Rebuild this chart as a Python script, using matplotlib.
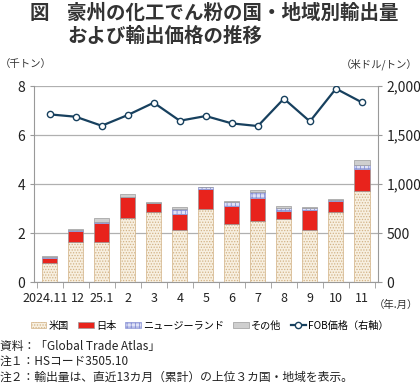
import matplotlib.pyplot as plt
import matplotlib.transforms as mtransforms
import numpy as np

plt.rcParams['font.family'] = ['Noto Sans CJK JP', 'DejaVu Sans']
plt.rcParams['hatch.linewidth'] = 0.6

months = ["2024.11", "12", "25.1", "2", "3", "4", "5", "6", "7", "8", "9", "10", "11"]
usa = [0.80, 1.66, 1.66, 2.60, 2.87, 2.12, 2.98, 2.37, 2.50, 2.57, 2.12, 2.87, 3.70]
japan = [0.17, 0.42, 0.76, 0.86, 0.37, 0.68, 0.84, 0.72, 0.94, 0.33, 0.82, 0.46, 0.91]
nz = [0.06, 0.06, 0.04, 0.02, 0.01, 0.19, 0.06, 0.19, 0.22, 0.11, 0.07, 0.04, 0.19]
other = [0.06, 0.05, 0.14, 0.10, 0.02, 0.07, 0.02, 0.05, 0.11, 0.11, 0.05, 0.04, 0.17]
fob = [1711, 1687, 1595, 1704, 1830, 1646, 1694, 1619, 1592, 1871, 1639, 1973, 1833]

x = np.arange(len(months))
w = 0.58

fig = plt.figure(figsize=(4.2, 3.84), dpi=100)
ax = fig.add_axes([0.081, 0.265, 0.818, 0.511])
ax2 = ax.twinx()

b1 = np.array(usa)
b2 = b1 + np.array(japan)
b3 = b2 + np.array(nz)
ax.bar(x, usa, w, color='#f7efe0', edgecolor='#d2b285', hatch='......', linewidth=0.5, label='米国', zorder=3)
ax.bar(x, japan, w, bottom=b1, color='#e8231c', edgecolor='#9a9a9a', linewidth=0.5, label='日本', zorder=3)
ax.bar(x, nz, w, bottom=b2, color='#dfe2f6', edgecolor='#8a93d6', hatch='++++', linewidth=0.5, label='ニュージーランド', zorder=3)
ax.bar(x, other, w, bottom=b3, color='#cfcfcf', edgecolor='#9a9a9a', linewidth=0.5, label='その他', zorder=3)

ax2.plot(x, fob, color='#17405e', lw=1.6, marker='o', ms=4.5, mfc='white', mec='#17405e', mew=1.0, label='FOB価格（右軸）')

ax.set_ylim(0, 8)
ax.set_yticks([0, 2, 4, 6, 8])
ax2.set_ylim(0, 2000)
ax2.set_yticks([0, 500, 1000, 1500, 2000])
ax2.set_yticklabels(['0', '500', '1,000', '1,500', '2,000'])
ax.set_xlim(-0.6, len(months) - 0.4)
ax.set_xticks(x)
ax.set_xticklabels(months)
ax.set_xticks(np.arange(-0.5, len(months)), minor=True)
ax.tick_params(axis='x', which='major', length=0, labelsize=9, pad=7, colors='#222222')
ax.tick_params(axis='x', which='minor', length=4, color='#999999')
ax.tick_params(axis='y', length=3, labelsize=10, color='#999999', labelcolor='#222222')
ax2.tick_params(axis='y', length=3, labelsize=10, color='#999999', labelcolor='#222222')
ax.grid(axis='y', color='#b0b0b0', lw=0.9, zorder=0)

# first two month labels sit tight together in the original; nudge them apart
lbls = ax.get_xticklabels()
lbls[0].set_transform(lbls[0].get_transform() + mtransforms.ScaledTranslation(-3.5 / 72, 0, fig.dpi_scale_trans))
lbls[1].set_transform(lbls[1].get_transform() + mtransforms.ScaledTranslation(1.5 / 72, 0, fig.dpi_scale_trans))

for a in (ax, ax2):
    for s in a.spines.values():
        s.set_visible(False)
ax.spines['left'].set_visible(True)
ax.spines['left'].set_color('#999999')
ax.spines['bottom'].set_visible(True)
ax.spines['bottom'].set_color('#999999')
ax2.spines['right'].set_visible(True)
ax2.spines['right'].set_color('#999999')

fig.text(0.07, 0.965, "図", fontsize=14, color='#333333', weight='bold', va='center')
fig.text(0.16, 0.965, "豪州の化工でん粉の国・地域別輸出量", fontsize=14, color='#333333', weight='bold', va='center')
fig.text(0.16, 0.906, "および輸出価格の推移", fontsize=14, color='#333333', weight='bold', va='center')
fig.text(0.0, 0.833, "（千トン）", fontsize=7.5, color='#333333', va='center')
fig.text(0.995, 0.833, "（米ドル/トン）", fontsize=7.5, color='#333333', va='center', ha='right')
fig.text(0.995, 0.205, "（年.月）", fontsize=7.5, color='#333333', va='center', ha='right')

h1, l1 = ax.get_legend_handles_labels()
h2, l2 = ax2.get_legend_handles_labels()
fig.legend(h1 + h2, l1 + l2, loc='center', bbox_to_anchor=(0.5, 0.152), ncol=5, frameon=False,
           fontsize=7.3, handlelength=1.5, handleheight=0.6, columnspacing=0.9, handletextpad=0.25)

notes = ["資料：「Global Trade Atlas」", "注１：HSコード3505.10", "注２：輸出量は、直近13カ月（累計）の上位３カ国・地域を表示。"]
for i, t in enumerate(notes):
    fig.text(0.0, 0.098 - i * 0.04, t, fontsize=8.5, color='#222222', va='center')

fig.savefig('out.png', dpi=100)
